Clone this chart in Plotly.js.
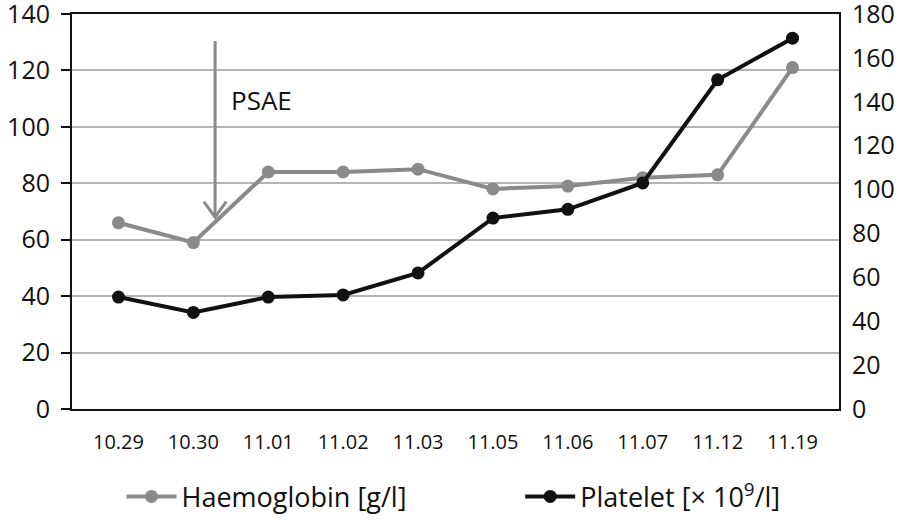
<!DOCTYPE html>
<html><head><meta charset="utf-8">
<script src="https://cdn.plot.ly/plotly-3.0.1.min.js"></script>
<style>html,body{margin:0;padding:0;background:#fff}#chart{width:900px;height:523px}</style>
</head><body><div id="chart"></div>
<script>
const dates = ["10.29","10.30","11.01","11.02","11.03","11.05","11.06","11.07","11.12","11.19"];
const haemoglobin = [66, 59, 84, 84, 85, 78, 79, 82, 83, 121];
const platelet = [51, 44, 51, 52, 62, 87, 91, 103, 150, 169];
const leftTicks = [0,20,40,60,80,100,120,140];
const rightTicks = [0,20,40,60,80,100,120,140,160,180];

const font = "Open Sans, Noto Sans, sans-serif";
const traces = [
  {x: dates, y: haemoglobin, name: "Haemoglobin [g/l]", type: "scatter", mode: "lines+markers",
   line: {color: "#8a8a8a", width: 4}, marker: {color: "#8a8a8a", size: 13}, yaxis: "y",
   cliponaxis: false, legend: "legend"},
  {x: dates, y: platelet, name: "Platelet [× 10<sup>9</sup>/l]", type: "scatter", mode: "lines+markers",
   line: {color: "#111111", width: 4}, marker: {color: "#111111", size: 13}, yaxis: "y2",
   cliponaxis: false, legend: "legend2"}
];
const legendBase = {orientation: "h", xref: "container", xanchor: "left", yref: "container",
  y: 0.05, yanchor: "middle", font: {size: 27, family: font, color: "#111"}, itemwidth: 50,
  bgcolor: "rgba(0,0,0,0)"};
const layout = {
  width: 900, height: 523,
  margin: {l: 72, r: 61, t: 14, b: 114, autoexpand: false},
  paper_bgcolor: "#fff", plot_bgcolor: "#fff",
  font: {family: font, color: "#111", size: 22},
  showlegend: true,
  legend: Object.assign({}, legendBase, {x: 0.135}),
  legend2: Object.assign({}, legendBase, {x: 0.578}),
  xaxis: {type: "category", showline: true, linecolor: "#111", linewidth: 2, mirror: true,
          ticks: "", showgrid: false, tickfont: {size: 20}, zeroline: false, ticklabelstandoff: 14,
          automargin: false},
  yaxis: {range: [0, 140], tickvals: leftTicks, showline: true, linecolor: "#111", linewidth: 2,
          ticks: "outside", ticklen: 9, tickwidth: 2, tickcolor: "#111",
          showgrid: true, gridcolor: "#b4b4b4", gridwidth: 2, zeroline: false,
          tickfont: {size: 25}, ticklabelstandoff: 6, ticklabeloverflow: "allow", automargin: false},
  yaxis2: {range: [0, 180], tickvals: rightTicks, overlaying: "y", side: "right",
           showline: true, linecolor: "#111", linewidth: 2, ticks: "", showgrid: false,
           zeroline: false, tickfont: {size: 25}, ticklabelstandoff: 6, ticklabeloverflow: "allow",
           automargin: false},
  shapes: [
    {type: "line", xref: "x", yref: "y", x0: 1.29, x1: 1.29, y0: 130.4, y1: 68.5,
     line: {color: "#8a8a8a", width: 3}},
    {type: "path", xref: "x", yref: "y", path: "M 1.14,73.5 L 1.29,68 L 1.44,73.5",
     line: {color: "#8a8a8a", width: 3}}
  ],
  annotations: [
    {xref: "x", yref: "y", x: 1.48, y: 109.5, text: "PSAE", showarrow: false, xanchor: "left",
     font: {size: 26, color: "#111"}}
  ]
};
Plotly.newPlot("chart", traces, layout, {displayModeBar: false, staticPlot: true});
</script></body></html>
